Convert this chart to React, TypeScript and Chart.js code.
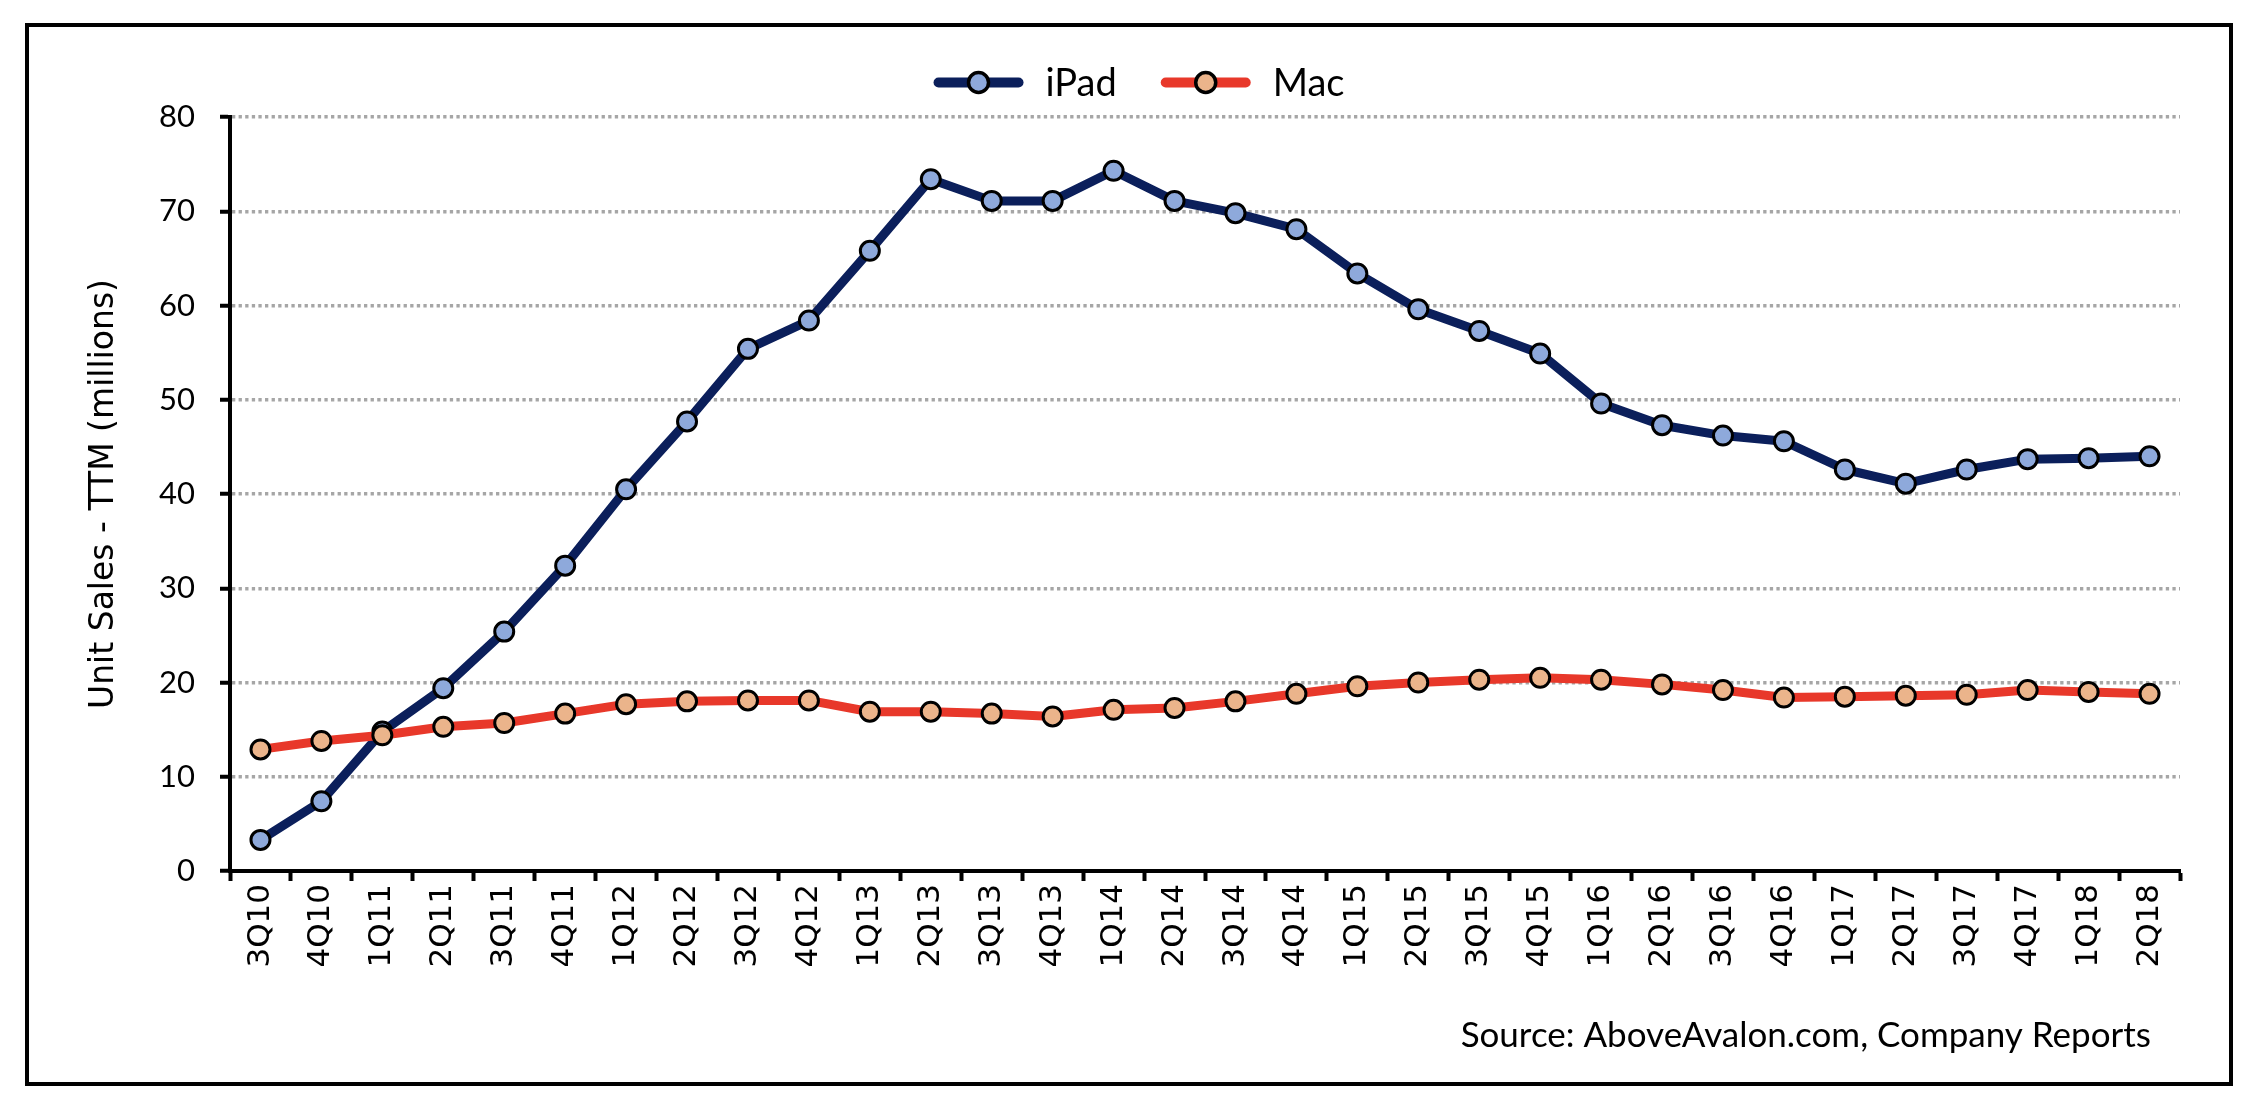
import React, { useEffect, useRef } from 'react'
import { Chart, registerables } from 'chart.js'

Chart.register(...registerables)

// quarters (Apple fiscal), trailing-twelve-month unit sales in millions
const quarters = [
  '3Q10','4Q10','1Q11','2Q11','3Q11','4Q11','1Q12','2Q12','3Q12','4Q12',
  '1Q13','2Q13','3Q13','4Q13','1Q14','2Q14','3Q14','4Q14','1Q15','2Q15',
  '3Q15','4Q15','1Q16','2Q16','3Q16','4Q16','1Q17','2Q17','3Q17','4Q17',
  '1Q18','2Q18'
]
const ipadUnits = [
  3.3, 7.4, 14.8, 19.4, 25.4, 32.4, 40.5, 47.7, 55.4, 58.4,
  65.8, 73.4, 71.1, 71.1, 74.3, 71.1, 69.8, 68.1, 63.4, 59.6,
  57.3, 54.9, 49.6, 47.3, 46.2, 45.6, 42.6, 41.1, 42.6, 43.7,
  43.8, 44.0
]
const macUnits = [
  12.9, 13.8, 14.4, 15.3, 15.7, 16.7, 17.7, 18.0, 18.1, 18.1,
  16.9, 16.9, 16.7, 16.4, 17.1, 17.3, 18.0, 18.8, 19.6, 20.0,
  20.3, 20.5, 20.3, 19.8, 19.2, 18.4, 18.5, 18.6, 18.7, 19.2,
  19.0, 18.8
]
const yMin = 0
const yMax = 80
const yStep = 10
const yTitle = 'Unit Sales - TTM (millions)'
const sourceNote = 'Source: AboveAvalon.com, Company Reports'

const W = 2258
const H = 1108
const labelFont = 'Lato, "Open Sans", sans-serif'
const wideFont = '"DejaVu Sans", Verdana, sans-serif'

// draws the line+marker legend on top and the source note bottom right
const extrasPlugin = {
  id: 'extras',
  afterDraw(chart: any) {
    const ctx = chart.ctx
    const items = chart.data.datasets
    ctx.save()
    ctx.font = `38px ${labelFont}`
    ctx.textBaseline = 'alphabetic'
    const lineLen = 90
    const gapText = 22
    const gapItems = 44
    const widths = items.map((d: any) => lineLen + gapText + ctx.measureText(d.label).width)
    const total = widths.reduce((a: number, b: number) => a + b, 0) + gapItems * (items.length - 1)
    let x = 1139 - total / 2
    const cy = 82.5
    items.forEach((d: any, i: number) => {
      ctx.strokeStyle = d.borderColor
      ctx.lineWidth = 10
      ctx.lineCap = 'round'
      ctx.beginPath()
      ctx.moveTo(x + 5, cy)
      ctx.lineTo(x + lineLen - 5, cy)
      ctx.stroke()
      ctx.beginPath()
      ctx.arc(x + lineLen / 2, cy, 10, 0, Math.PI * 2)
      ctx.fillStyle = d.pointBackgroundColor
      ctx.fill()
      ctx.lineWidth = 3.5
      ctx.strokeStyle = '#000'
      ctx.stroke()
      ctx.fillStyle = '#000'
      ctx.textAlign = 'left'
      ctx.fillText(d.label, x + lineLen + gapText, cy + 13)
      x += widths[i] + gapItems
    })
    ctx.font = `35px ${labelFont}`
    ctx.textAlign = 'right'
    ctx.fillText(sourceNote, 2151, 1047)
    ctx.restore()
  }
}

export default function App() {
  const canvasRef = useRef<HTMLCanvasElement | null>(null)

  useEffect(() => {
    const el = canvasRef.current
    if (!el) return

    const chart = new Chart(el, {
      type: 'line',
      data: {
        labels: quarters,
        datasets: [
          {
            label: 'iPad',
            data: ipadUnits,
            borderColor: '#0B1F5B',
            backgroundColor: '#0B1F5B',
            borderWidth: 9,
            pointBackgroundColor: '#8EA9DB',
            pointBorderColor: '#000',
            pointBorderWidth: 3,
            pointRadius: 9.5,
            pointHoverRadius: 9.5,
            order: 1
          },
          {
            label: 'Mac',
            data: macUnits,
            borderColor: '#E8382A',
            backgroundColor: '#E8382A',
            borderWidth: 9,
            pointBackgroundColor: '#EBB48B',
            pointBorderColor: '#000',
            pointBorderWidth: 3,
            pointRadius: 9.5,
            pointHoverRadius: 9.5,
            order: 0
          }
        ]
      },
      options: {
        responsive: false,
        animation: false,
        devicePixelRatio: 1,
        layout: { padding: { top: 117, left: 0, right: 78, bottom: 0 } },
        elements: {
          line: { tension: 0, borderCapStyle: 'round', borderJoinStyle: 'round' }
        },
        plugins: {
          legend: { display: false },
          tooltip: { enabled: false }
        },
        scales: {
          x: {
            type: 'category',
            offset: true,
            afterFit: (s: any) => { s.height = H - 871 },
            grid: {
              offset: true,
              drawOnChartArea: false,
              drawTicks: true,
              tickLength: 10,
              tickColor: '#000',
              tickWidth: 4,
              color: '#000'
            },
            border: { color: '#000', width: 4 },
            ticks: {
              autoSkip: false,
              minRotation: 90,
              maxRotation: 90,
              padding: 3,
              color: '#000',
              font: { family: wideFont, size: 31 }
            }
          },
          y: {
            min: yMin,
            max: yMax,
            afterFit: (s: any) => { s.width = 230 },
            grid: {
              color: (c: any) => (c.tick && c.tick.value === yMin ? 'rgba(0,0,0,0)' : '#A6A6A6'),
              lineWidth: 3.5,
              tickColor: '#000',
              tickWidth: 4,
              tickLength: 10
            },
            border: { color: '#000', width: 4, dash: [3.3, 3.3] },
            ticks: {
              stepSize: yStep,
              padding: 25,
              color: '#000',
              font: { family: labelFont, size: 31 }
            },
            title: {
              display: true,
              text: yTitle,
              color: '#000',
              padding: { top: 85, bottom: 0 },
              font: { family: wideFont, size: 33 }
            }
          }
        }
      },
      plugins: [extrasPlugin]
    })

    return () => chart.destroy()
  }, [])

  return (
    <div style={{ position: 'fixed', left: 0, top: 0, width: W, height: H, background: '#fff' }}>
      <canvas ref={canvasRef} width={W} height={H} style={{ position: 'absolute', left: 0, top: 0 }}></canvas>
      <div
        style={{
          position: 'absolute',
          left: 25,
          top: 23,
          width: 2208,
          height: 1063,
          boxSizing: 'border-box',
          border: '4px solid #000',
          pointerEvents: 'none'
        }}
      ></div>
    </div>
  )
}
